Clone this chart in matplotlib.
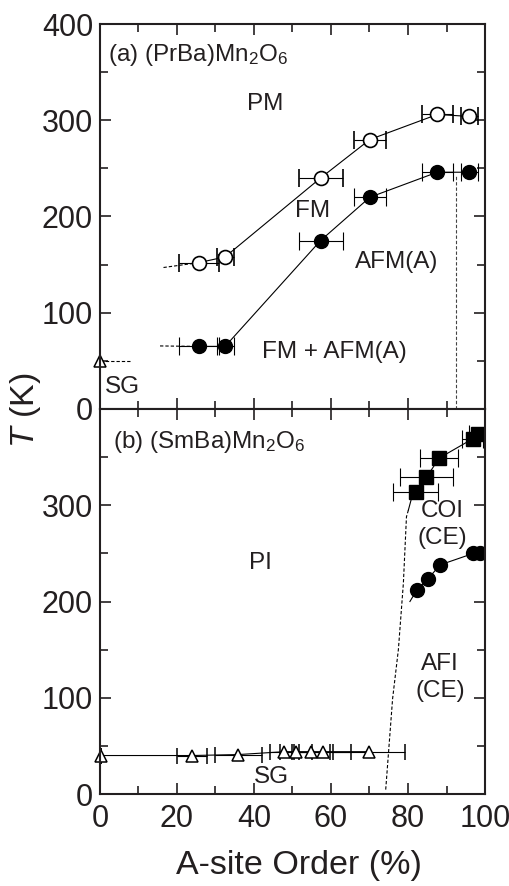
import numpy as np
import matplotlib
matplotlib.use('Agg')
import matplotlib.pyplot as plt
from matplotlib.ticker import MultipleLocator

plt.rcParams['font.family'] = ['Liberation Sans', 'DejaVu Sans']
plt.rcParams['mathtext.fontset'] = 'custom'
plt.rcParams['mathtext.rm'] = 'Liberation Sans'
plt.rcParams['mathtext.it'] = 'Liberation Sans:italic'

# (a) (PrBa)Mn2O6
pr_x = [25.6, 32.5, 57.3, 70.1, 87.6, 95.9]
pr_xerr = [5.2, 2.2, 5.7, 4.1, 4.0, 2.2]
pr_tc = [152, 158, 240, 280, 306, 304]
pr_tn = [65, 65, 175, 220, 246, 246]
pr_tc_ext_x = [16.5, 25.6]
pr_tc_ext_t = [147, 152]
pr_tn_ext_x = [15.6, 25.6]
pr_tn_ext_t = [65.5, 65]
pr_sg_x = [0]
pr_sg_t = [50]
pr_sg_ext_x = [0, 7.8]
pr_sg_ext_t = [50, 50]
pr_border_x = [92.4, 92.4]
pr_border_t = [0, 243]

# (b) (SmBa)Mn2O6
sm_sg_x = [0.3, 23.8, 35.9, 47.9, 50.9, 54.8, 57.8, 69.9]
sm_sg_xerr = [0, 3.9, 6.1, 3.7, 4.1, 5.0, 7.3, 9.4]
sm_sg_t = [40, 40, 41, 44, 44, 44, 44, 44]
sm_co_x = [82.0, 84.8, 88.1, 96.8, 98.3]
sm_co_xerr = [5.8, 7.0, 5.0, 2.7, 2.4]
sm_co_t = [314, 329, 349, 369, 374]
sm_cn_x = [82.3, 85.1, 88.3, 97.0, 98.7]
sm_cn_t = [212, 223, 238, 250, 250]
sm_co_ext_x = [82.0, 80.9, 80.1]
sm_co_ext_t = [314, 307, 295]
sm_co_dash_x = [80.1, 79.6, 78.8, 77.5, 76.0, 74.2]
sm_co_dash_t = [295, 288, 219, 150, 99, 4]
sm_cn_ext_x = [80.5, 82.3]
sm_cn_ext_t = [200, 212]

fig = plt.figure(figsize=(5.1, 8.86), dpi=100)
ax1 = fig.add_axes([0.196, 0.5384, 0.755, 0.4345])
ax2 = fig.add_axes([0.196, 0.1038, 0.755, 0.4346])

lw = 0.8
ink = '#231f20'
dash = (0, (3, 1.8))


def style_axis(ax, ylabels):
    ax.set_xlim(0, 100)
    ax.set_ylim(0, 400)
    ax.xaxis.set_major_locator(MultipleLocator(20))
    ax.xaxis.set_minor_locator(MultipleLocator(10))
    ax.set_yticks(ylabels)
    ax.yaxis.set_minor_locator(MultipleLocator(50))
    ax.tick_params(which='both', direction='in', top=True, right=True, width=1.2,
                   labelsize=22, colors=ink, pad=5)
    ax.tick_params(which='major', length=8)
    ax.tick_params(which='minor', length=5.5)
    for sp in ax.spines.values():
        sp.set_linewidth(1.5)
        sp.set_color(ink)


style_axis(ax1, [0, 100, 200, 300, 400])
style_axis(ax2, [0, 100, 200, 300])
ax1.tick_params(labelbottom=False)
ax2.set_ylim(0, 400)
ax2.tick_params(axis='x', pad=7)

# panel (a)
ax1.plot(pr_tc_ext_x, pr_tc_ext_t, color='black', lw=lw, ls=dash)
ax1.plot(pr_tn_ext_x, pr_tn_ext_t, color='black', lw=lw, ls=dash)
ax1.errorbar(pr_x, pr_tc, xerr=pr_xerr, fmt='-o', color='black', lw=lw, ms=10,
             mfc='white', mec='black', mew=1.2, ecolor='black', elinewidth=lw,
             capsize=6.5, capthick=lw)
ax1.errorbar(pr_x, pr_tn, xerr=pr_xerr, fmt='-o', color='black', lw=lw, ms=10,
             mfc='black', mec='black', ecolor='black', elinewidth=lw,
             capsize=6.5, capthick=lw)
ax1.plot(pr_sg_ext_x, pr_sg_ext_t, color='black', lw=lw, ls=dash)
ax1.plot(pr_sg_x, pr_sg_t, '^', ms=8.5, mfc='white', mec='black', mew=1.1, clip_on=False)
ax1.plot(pr_border_x, pr_border_t, color='#444444', lw=lw, ls=dash)

fs = 17.5
ax1.text(2.2, 368, '(a) (PrBa)Mn$_2$O$_6$', fontsize=fs, ha='left', va='center', color=ink)
ax1.text(42.9, 317, 'PM', fontsize=fs, ha='center', va='center', color=ink)
ax1.text(55.3, 206, 'FM', fontsize=fs, ha='center', va='center', color=ink)
ax1.text(77.1, 153, 'AFM(A)', fontsize=fs, ha='center', va='center', color=ink)
ax1.text(61.0, 59.5, 'FM + AFM(A)', fontsize=fs, ha='center', va='center', color=ink)
ax1.text(5.9, 23, 'SG', fontsize=fs, ha='center', va='center', color=ink)

# panel (b)
ax2.errorbar(sm_sg_x, sm_sg_t, xerr=sm_sg_xerr, fmt='-^', color='black', lw=lw, ms=8.5,
             mfc='white', mec='black', mew=1.1, clip_on=False, ecolor='black',
             elinewidth=lw, capsize=5.5, capthick=lw)
ax2.plot(sm_co_ext_x, sm_co_ext_t, color='black', lw=lw)
ax2.plot(sm_co_dash_x, sm_co_dash_t, color='black', lw=lw, ls=dash)
ax2.errorbar(sm_co_x, sm_co_t, xerr=sm_co_xerr, fmt='-s', color='black', lw=lw, ms=10.5,
             mfc='black', mec='black', ecolor='black', elinewidth=lw,
             capsize=6.5, capthick=lw)
ax2.plot(sm_cn_ext_x, sm_cn_ext_t, color='black', lw=lw)
ax2.plot(sm_cn_x, sm_cn_t, '-o', color='black', lw=lw, ms=10)

ax2.text(3.5, 366, '(b) (SmBa)Mn$_2$O$_6$', fontsize=fs, ha='left', va='center', color=ink)
ax2.text(41.7, 240, 'PI', fontsize=fs, ha='center', va='center', color=ink)
ax2.text(88.8, 280, 'COI\n(CE)', fontsize=fs, ha='center', va='center', linespacing=1.25, color=ink)
ax2.text(88.3, 121, 'AFI\n(CE)', fontsize=fs, ha='center', va='center', linespacing=1.25, color=ink)
ax2.text(44.6, 18, 'SG', fontsize=fs, ha='center', va='center', color=ink)

ax2.set_xlabel('A-site Order (%)', fontsize=24.5, color=ink)
ax2.xaxis.set_label_coords(0.517, -0.145)
fig.text(26 / 510, 1 - 410 / 886, '$T$ (K)', fontsize=24.5, rotation=90, ha='center', va='center',
         color=ink)

fig.savefig('out.png', dpi=100)
